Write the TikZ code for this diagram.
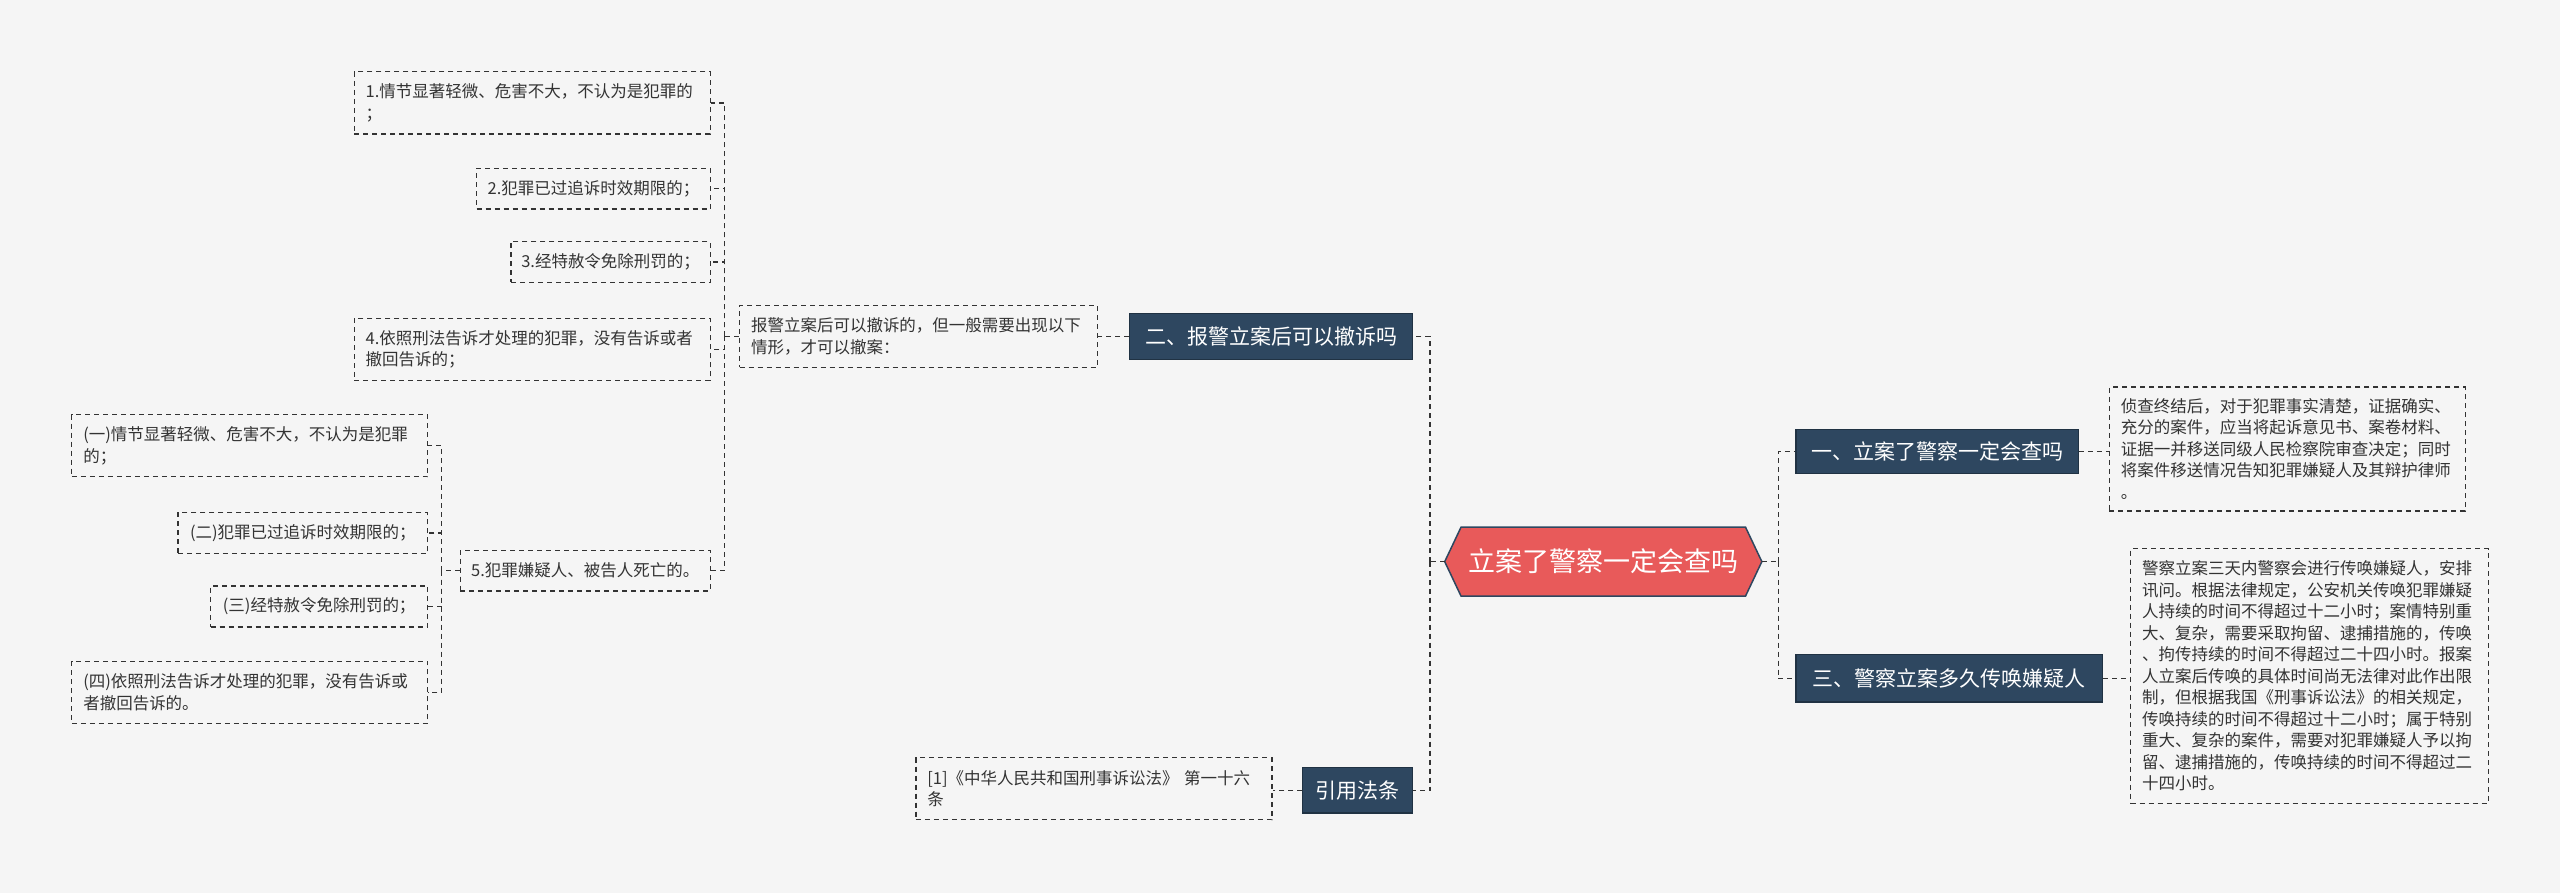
\documentclass[tikz,border=0pt]{standalone}
\usepackage{fontspec}
\setmainfont{Noto Sans CJK SC}
\XeTeXlinebreaklocale "zh"
\usetikzlibrary{calc}
\definecolor{bg}{HTML}{F5F5F5}
\definecolor{navy}{HTML}{2E4760}
\definecolor{hred}{HTML}{E85A5A}
\definecolor{ln}{HTML}{333333}
\tikzset{
  leaf/.style={draw=ln,line width=1.3pt,dash pattern=on 5pt off 4pt,fill=bg,inner sep=0pt,align=left,font=\fontsize{16.5pt}{21.5pt}\selectfont,text=ln},
  branch/.style={draw=navy!70!black,fill=navy,text=white,inner sep=0pt,font=\fontsize{21pt}{26pt}\selectfont,line width=1.2pt},
  conn/.style={draw=ln,line width=1.3pt,dash pattern=on 5pt off 4pt}
}
\begin{document}
\begin{tikzpicture}[x=1.633pt,y=-1.633pt]
\useasboundingbox[fill=bg] (0,0) rectangle (1568,547);
% center
\node[minimum width=194*1.633pt,minimum height=42*1.633pt,inner sep=0pt] (c) at (982,344) {};
\fill[hred,draw=navy,line width=1.5pt] (c.west) -- ($(c.north west)+(10,0)$) -- ($(c.north east)+(-10,0)$) -- (c.east) -- ($(c.south east)+(-10,0)$) -- ($(c.south west)+(10,0)$) -- cycle;
\node[text=white,font=\fontsize{27pt}{32pt}\selectfont] at (c) {立案了警察一定会查吗};
% branches
\node[branch,minimum width=173*1.633pt,minimum height=27*1.633pt] (r1) at (1186.5,276.5) {一、立案了警察一定会查吗};
\node[branch,minimum width=188*1.633pt,minimum height=29*1.633pt] (r2) at (1194,415.5) {三、警察立案多久传唤嫌疑人};
\node[branch,minimum width=173*1.633pt,minimum height=28*1.633pt] (b1) at (778.5,206) {二、报警立案后可以撤诉吗};
\node[branch,minimum width=67*1.633pt,minimum height=28*1.633pt] (b3) at (831.5,484) {引用法条};
% right leaves
\node[leaf,minimum width=218*1.633pt,minimum height=76*1.633pt,text width=204*1.633pt] (rl1) at (1401,275) {侦查终结后，对于犯罪事实清楚，证据确实、\\充分的案件，应当将起诉意见书、案卷材料、\\证据一并移送同级人民检察院审查决定；同时\\将案件移送情况告知犯罪嫌疑人及其辩护律师\\。};
\node[leaf,minimum width=219*1.633pt,minimum height=156*1.633pt,text width=205*1.633pt] (rl2) at (1414.5,414) {警察立案三天内警察会进行传唤嫌疑人，安排\\讯问。根据法律规定，公安机关传唤犯罪嫌疑\\人持续的时间不得超过十二小时；案情特别重\\大、复杂，需要采取拘留、逮捕措施的，传唤\\、拘传持续的时间不得超过二十四小时。报案\\人立案后传唤的具体时间尚无法律对此作出限\\制，但根据我国《刑事诉讼法》的相关规定，\\传唤持续的时间不得超过十二小时；属于特别\\重大、复杂的案件，需要对犯罪嫌疑人予以拘\\留、逮捕措施的，传唤持续的时间不得超过二\\十四小时。};
% left leaves
\node[leaf,minimum width=219*1.633pt,minimum height=38*1.633pt,text width=205*1.633pt] (l1) at (562.5,206) {报警立案后可以撤诉的，但一般需要出现以下\\情形，才可以撤案：};
\node[leaf,minimum width=218*1.633pt,minimum height=38*1.633pt,text width=204*1.633pt] (l3) at (670,483) {[1]《中华人民共和国刑事诉讼法》 第一十六\\条};
\node[leaf,minimum width=218*1.633pt,minimum height=38*1.633pt,text width=204*1.633pt] (i1) at (326,63) {1.情节显著轻微、危害不大，不认为是犯罪的\\；};
\node[leaf,minimum width=143*1.633pt,minimum height=25*1.633pt] (i2) at (363.5,115.5) {2.犯罪已过追诉时效期限的；};
\node[leaf,minimum width=122*1.633pt,minimum height=25*1.633pt] (i3) at (374,160.5) {3.经特赦令免除刑罚的；};
\node[leaf,minimum width=218*1.633pt,minimum height=38*1.633pt,text width=204*1.633pt] (i4) at (326,214) {4.依照刑法告诉才处理的犯罪，没有告诉或者\\撤回告诉的；};
\node[leaf,minimum width=153*1.633pt,minimum height=25*1.633pt] (i5) at (358.5,349.5) {5.犯罪嫌疑人、被告人死亡的。};
\node[leaf,minimum width=218*1.633pt,minimum height=38*1.633pt,text width=204*1.633pt] (s1) at (153,273) {(一)情节显著轻微、危害不大，不认为是犯罪\\的；};
\node[leaf,minimum width=153*1.633pt,minimum height=25*1.633pt] (s2) at (185.5,326.5) {(二)犯罪已过追诉时效期限的；};
\node[leaf,minimum width=133*1.633pt,minimum height=25*1.633pt] (s3) at (195.5,371.5) {(三)经特赦令免除刑罚的；};
\node[leaf,minimum width=218*1.633pt,minimum height=38*1.633pt,text width=204*1.633pt] (s4) at (153,424) {(四)依照刑法告诉才处理的犯罪，没有告诉或\\者撤回告诉的。};
% connectors
\draw[conn] (c.west) -- ++(-9,0) coordinate (cl);
\draw[conn] (cl) |- (b1.east);
\draw[conn] (cl) |- (b3.east);
\draw[conn] (c.east) -- ++(10,0) coordinate (cr);
\draw[conn] (cr) |- (r1.west);
\draw[conn] (cr) |- (r2.west);
\draw[conn] (r1.east) -- (rl1.west |- r1.east);
\draw[conn] (r2.east) -- (rl2.west |- r2.east);
\draw[conn] (b1.west) -- (l1.east);
\draw[conn] (b3.west) -- (l3.east |- b3.west);
\draw[conn] (l1.west) -- ++(-9,0) coordinate (k1);
\foreach \n in {i1,i2,i3,i4,i5} \draw[conn] (k1) |- (\n.east);
\draw[conn] (i5.west) -- ++(-11,0) coordinate (k2);
\foreach \n in {s1,s2,s3,s4} \draw[conn] (k2) |- (\n.east);
\end{tikzpicture}
\end{document}
